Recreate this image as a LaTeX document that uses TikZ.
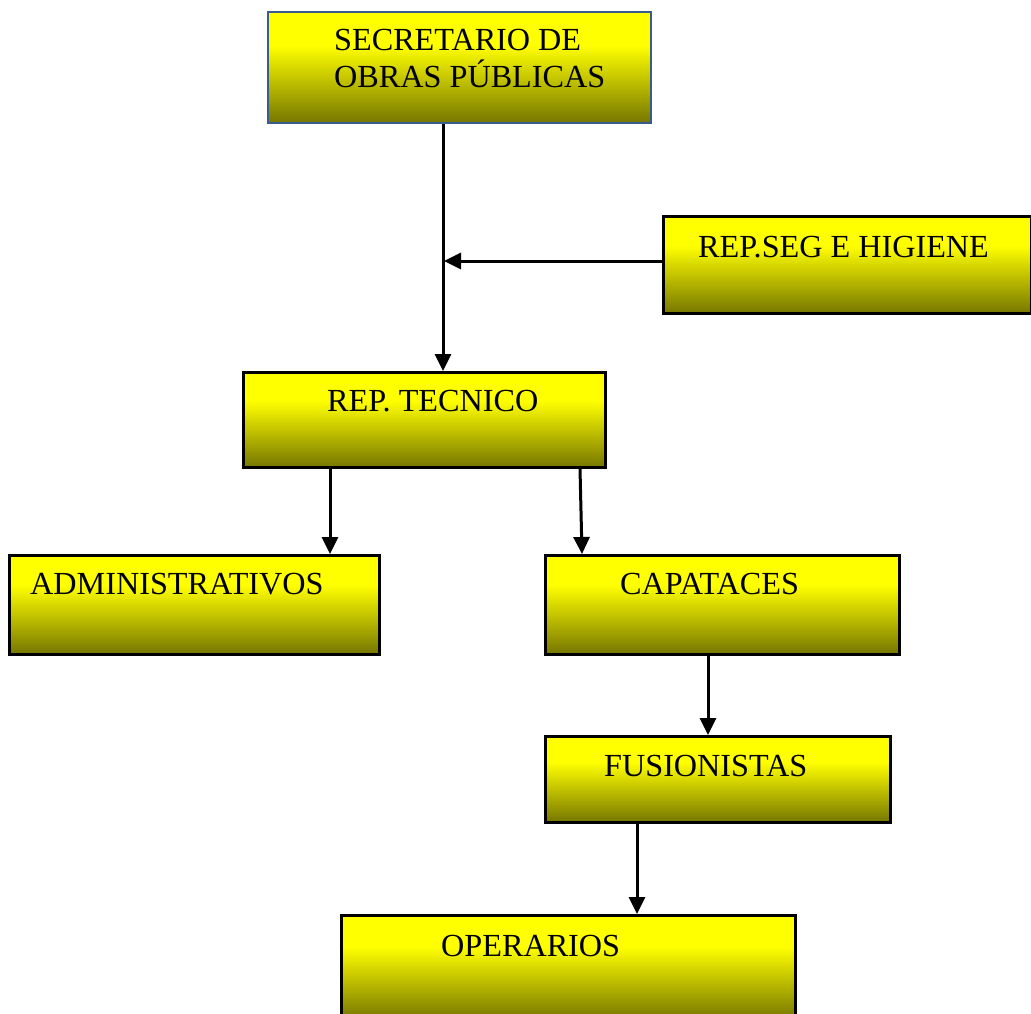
\documentclass[tikz,border=0pt]{standalone}
\usepackage{fontspec}
\setmainfont{Liberation Serif}
\usetikzlibrary{arrows.meta}
\definecolor{boxdark}{RGB}{118,118,0}
\definecolor{boxyellow}{RGB}{255,255,0}
\definecolor{topborder}{RGB}{56,93,138}
% vertical fill: olive at the bottom, bright yellow in the upper part
\pgfdeclareverticalshading{boxshade}{100bp}{color(0bp)=(boxdark); color(25bp)=(boxdark); color(60bp)=(boxyellow); color(100bp)=(boxyellow)}
\tikzset{
  unit/.style={draw=black, line width=2.5pt, shading=boxshade, anchor=north west, inner sep=0pt},
  lbl/.style={anchor=base west, inner sep=0pt, font=\fontsize{32.2}{37}\selectfont, align=left},
  arr/.style={line width=3pt, -{Triangle[length=17pt,width=16pt]}}
}
\begin{document}
\begin{tikzpicture}[x=1pt,y=-1pt]
\useasboundingbox (0,0) rectangle (1031,1013);
% boxes
\node[unit, draw=topborder, line width=2pt, minimum width=383pt, minimum height=111pt] (sec) at (267,11) {};
\node[unit, minimum width=368pt, minimum height=97pt] (seg) at (662,215) {};
\node[unit, minimum width=362pt, minimum height=95pt] (tec) at (242,371) {};
\node[unit, minimum width=370pt, minimum height=99pt] (adm) at (8,554) {};
\node[unit, minimum width=354pt, minimum height=99pt] (cap) at (544,554) {};
\node[unit, minimum width=345pt, minimum height=86pt] (fus) at (544,735) {};
\node[unit, minimum width=454pt, minimum height=104pt] (ope) at (340,914) {};
% labels
\node[lbl] (tsec) at (334,87) {SECRETARIO DE\\OBRAS PÚBLICAS};
\node[lbl] (tseg) at (698,257) {REP.SEG E HIGIENE};
\node[lbl] (ttec) at (327,411) {REP. TECNICO};
\node[lbl] (tadm) at (30,594) {ADMINISTRATIVOS};
\node[lbl] (tcap) at (620,594) {CAPATACES};
\node[lbl] (tfus) at (604,776) {FUSIONISTAS};
\node[lbl] (tope) at (441,956) {OPERARIOS};
% connectors
\coordinate (join) at (444,261);
\draw[arr] ([xshift=176pt]sec.south west) -- ([xshift=201pt]tec.north west);
\draw[arr] (seg.west |- join) -- (join);
\draw[arr] ([xshift=88pt]tec.south west) -- ([xshift=322pt]adm.north west);
\draw[arr] ([xshift=338pt]tec.south west) -- ([xshift=38pt]cap.north west);
\draw[arr] ([xshift=164pt]cap.south west) -- ([xshift=164pt]fus.north west);
\draw[arr] ([xshift=93pt]fus.south west) -- ([xshift=297pt]ope.north west);
\end{tikzpicture}
\end{document}
